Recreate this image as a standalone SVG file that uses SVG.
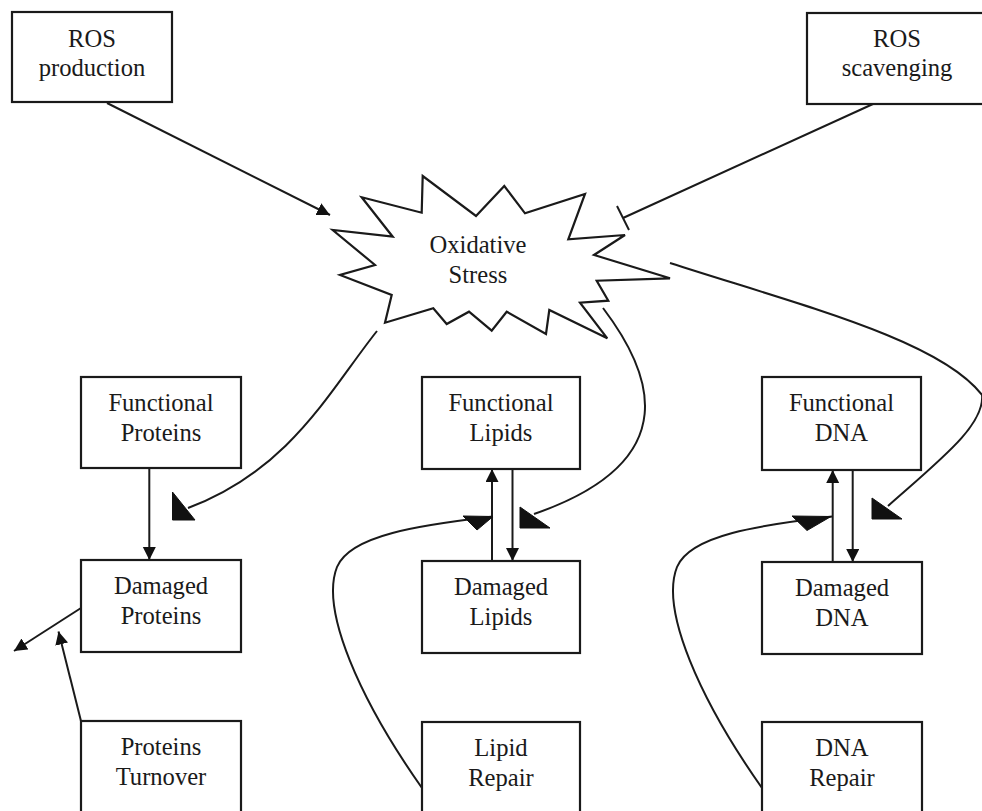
<svg xmlns="http://www.w3.org/2000/svg" width="982" height="811" viewBox="0 0 982 811">
<style>
.box{fill:#fff;stroke:#1a1a1a;stroke-width:2.2}
.lbl{font-family:"Liberation Serif","Times New Roman",serif;font-size:24.6px;fill:#1a1a1a;text-anchor:middle}
.ln{fill:none;stroke:#1a1a1a;stroke-width:2}
.ah{fill:#111;stroke:#111;stroke-width:1}
</style>
<defs>
<marker id="arr" markerUnits="userSpaceOnUse" markerWidth="16" markerHeight="14" refX="13" refY="6.5" orient="auto">
<path d="M0,0 L13,6.5 L0,13 z" fill="#111"/>
</marker>
</defs>
<rect width="982" height="811" fill="#fff"/>

<g id="connectors">
<line class="ln" x1="107" y1="103" x2="330" y2="215" marker-end="url(#arr)"/>
<line class="ln" x1="873" y1="104" x2="623" y2="218"/>
<line class="ln" x1="617" y1="206" x2="629" y2="230"/>
<path class="ln" d="M377,331 C330,390 290,470 188,508"/>
<polygon class="ah" points="172.5,492 172.5,520 195,520"/>
<path class="ln" d="M603,308 C650,370 690,460 534,514"/>
<polygon class="ah" points="520,507 520,528 550,528"/>
<path class="ln" d="M670,263 C800,305 940,340 982,395 C985,425 940,460 888,506"/>
<polygon class="ah" points="872,498 872,519 902,519"/>
<line class="ln" x1="149.3" y1="468" x2="149.3" y2="560" marker-end="url(#arr)"/>
<line class="ln" x1="492" y1="561" x2="492" y2="469" marker-end="url(#arr)"/>
<line class="ln" x1="512.5" y1="469" x2="512.5" y2="561" marker-end="url(#arr)"/>
<line class="ln" x1="832.7" y1="562" x2="832.7" y2="470" marker-end="url(#arr)"/>
<line class="ln" x1="852.7" y1="470" x2="852.7" y2="562" marker-end="url(#arr)"/>
<line class="ln" x1="81" y1="608" x2="14" y2="651" marker-end="url(#arr)"/>
<line class="ln" x1="81" y1="721" x2="58.5" y2="631.5" marker-end="url(#arr)"/>
<path class="ln" d="M422,788 C360,700 320,610 337,567 C350,535 420,525 493,516.5"/>
<polygon class="ah" points="463,516 493,516.5 477,530"/>
<path class="ln" d="M762,788 C700,700 660,610 677,567 C690,535 760,525 832,516.5"/>
<polygon class="ah" points="792,516 831,516.5 807,530.5"/>
</g>

<g id="ros-production">
<rect class="box" x="12" y="12" width="160" height="90"/>
<text class="lbl" x="92" y="47">ROS</text>
<text class="lbl" x="92" y="76">production</text>
</g>
<g id="ros-scavenging">
<rect class="box" x="807" y="13" width="185" height="91"/>
<text class="lbl" x="897" y="47">ROS</text>
<text class="lbl" x="897" y="76">scavenging</text>
</g>
<g id="oxidative-stress">
<polygon fill="#fff" stroke="#1a1a1a" stroke-width="2.2" stroke-linejoin="miter" points="361.7,197.3 421.7,212.7 422.7,176 476,216 504.3,186 525,213.3 585,194 568.3,239.3 625,235 594,255 670,278.3 596.7,280.7 608.3,300.7 580,302.7 607.3,338.3 549.3,310 546,334 506.7,311.7 491.7,330.7 469,311.7 446.7,324 433.3,308.3 385,322.7 391.7,295 340,275 375,265 332.7,230 392.7,236.7"/>
<text class="lbl" x="478" y="253">Oxidative</text>
<text class="lbl" x="478" y="283">Stress</text>
</g>
<g id="functional-proteins">
<rect class="box" x="81" y="377" width="160" height="91"/>
<text class="lbl" x="161" y="410.5">Functional</text>
<text class="lbl" x="161" y="440.5">Proteins</text>
</g>
<g id="damaged-proteins">
<rect class="box" x="81" y="560" width="160" height="92"/>
<text class="lbl" x="161" y="593.5">Damaged</text>
<text class="lbl" x="161" y="623.5">Proteins</text>
</g>
<g id="proteins-turnover">
<rect class="box" x="81" y="721" width="160" height="110"/>
<text class="lbl" x="161" y="754.5">Proteins</text>
<text class="lbl" x="161" y="784.5">Turnover</text>
</g>
<g id="functional-lipids">
<rect class="box" x="422" y="377" width="158" height="92"/>
<text class="lbl" x="501" y="410.5">Functional</text>
<text class="lbl" x="501" y="440.5">Lipids</text>
</g>
<g id="damaged-lipids">
<rect class="box" x="422" y="561" width="158" height="92"/>
<text class="lbl" x="501" y="594.5">Damaged</text>
<text class="lbl" x="501" y="624.5">Lipids</text>
</g>
<g id="lipid-repair">
<rect class="box" x="422" y="722" width="158" height="110"/>
<text class="lbl" x="501" y="755.5">Lipid</text>
<text class="lbl" x="501" y="785.5">Repair</text>
</g>
<g id="functional-dna">
<rect class="box" x="762" y="377" width="159" height="93"/>
<text class="lbl" x="841.5" y="410.5">Functional</text>
<text class="lbl" x="841.5" y="440.5">DNA</text>
</g>
<g id="damaged-dna">
<rect class="box" x="762" y="562" width="160" height="92"/>
<text class="lbl" x="842" y="595.5">Damaged</text>
<text class="lbl" x="842" y="625.5">DNA</text>
</g>
<g id="dna-repair">
<rect class="box" x="762" y="722" width="160" height="110"/>
<text class="lbl" x="842" y="755.5">DNA</text>
<text class="lbl" x="842" y="785.5">Repair</text>
</g>
</svg>
